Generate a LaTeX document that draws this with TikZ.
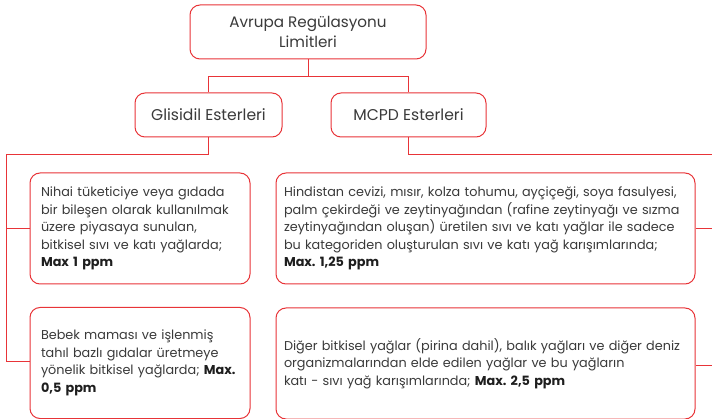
\documentclass[tikz,border=0pt]{standalone}
\usepackage{fontspec}
\setmainfont{Poppins}
\frenchspacing
\definecolor{limred}{RGB}{232,52,56}
\definecolor{limtext}{RGB}{58,58,58}
\definecolor{limbold}{RGB}{30,30,30}
\tikzset{
    head/.style={draw=limred, line width=1pt, rounded corners=10pt, fill=white,
        text=limtext, align=center, inner sep=0pt},
    info/.style={draw=limred, line width=1pt, rounded corners=10pt, fill=white,
        text=limtext, align=left, inner ysep=0pt, minimum height=111pt,
        font=\fontsize{12.8}{17.5}\selectfont},
    link/.style={draw=limred, line width=1pt}
}
\newcommand{\maxval}[1]{{\color{limbold}\bfseries #1}}
\begin{document}
\begin{tikzpicture}[x=1pt, y=-1pt]
    \clip (0,0) rectangle (712,419);

    % titles
    \node[head, minimum width=236pt, minimum height=54pt,
          font=\fontsize{15.2}{20}\selectfont] (top) at (308,32)
        {Avrupa Regülasyonu\\Limitleri};
    \node[head, minimum width=147pt, minimum height=44pt,
          font=\fontsize{15.6}{18}\selectfont] (glis) at (208.5,115) {Glisidil Esterleri};
    \node[head, minimum width=155pt, minimum height=44pt,
          font=\fontsize{15.6}{18}\selectfont] (mcpd) at (408.5,115) {MCPD Esterleri};

    % limit boxes
    \node[info, inner xsep=11pt, text width=198pt] (g1) at (140,228.5)
        {Nihai tüketiciye veya gıdada\\bir bileşen olarak kullanılmak\\üzere piyasaya sunulan,\\bitkisel sıvı ve katı yağlarda;\\\maxval{Max 1 ppm}};
    \node[info, inner xsep=11pt, text width=198pt] (g2) at (140,363)
        {Bebek maması ve işlenmiş\\tahıl bazlı gıdalar üretmeye\\yönelik bitkisel yağlarda; \maxval{Max.}\\\maxval{0,5 ppm}};
    \node[info, inner xsep=8pt, text width=403pt] (m1) at (485.5,228.5)
        {Hindistan cevizi, mısır, kolza tohumu, ayçiçeği, soya fasulyesi,\\palm çekirdeği ve zeytinyağından (rafine zeytinyağı ve sızma\\zeytinyağından oluşan) üretilen sıvı ve katı yağlar ile sadece\\bu kategoriden oluşturulan sıvı ve katı yağ karışımlarında;\\\maxval{Max. 1,25 ppm}};
    \node[info, inner xsep=8pt, text width=403pt] (m2) at (485.5,363.5)
        {Diğer bitkisel yağlar (pirina dahil), balık yağları ve diğer deniz\\organizmalarından elde edilen yağlar ve bu yağların\\katı - sıvı yağ karışımlarında; \maxval{Max. 2,5 ppm}};

    % trunks
    \coordinate (ltrunk) at (6.5,362);
    \coordinate (rtrunk) at (716,366);

    \draw[link] (top.south) -- ++(0,17) -| (glis.north);
    \draw[link] (top.south) -- ++(0,17) -| (mcpd.north);
    \draw[link] (glis.south) -- ++(0,17) -| (ltrunk) -- (ltrunk -| g2.west);
    \draw[link] (g1.west) -- (g1.west -| ltrunk);
    \draw[link] (mcpd.south) -- ++(0,17) -| (rtrunk) -- (rtrunk -| m2.east);
    \draw[link] (m1.east) -- (m1.east -| rtrunk);
\end{tikzpicture}
\end{document}
